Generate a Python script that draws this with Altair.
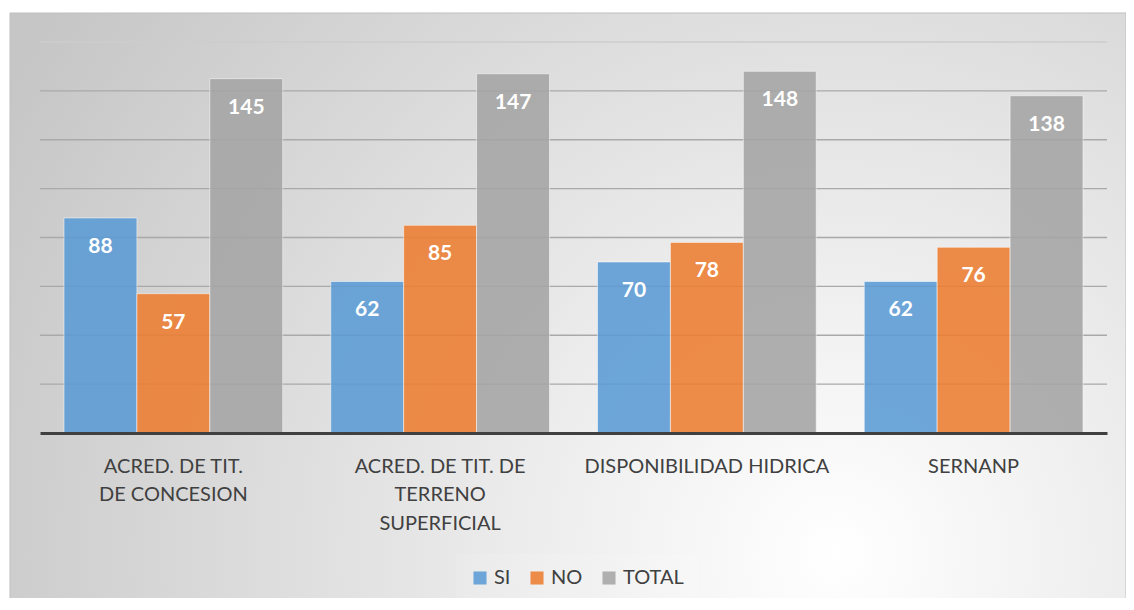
import json
import altair as alt
import pandas as pd

categories = [
    "ACRED. DE TIT. DE CONCESION",
    "ACRED. DE TIT. DE TERRENO SUPERFICIAL",
    "DISPONIBILIDAD HIDRICA",
    "SERNANP",
]
category_lines = [
    ["ACRED. DE TIT.", "DE CONCESION"],
    ["ACRED. DE TIT. DE", "TERRENO", "SUPERFICIAL"],
    ["DISPONIBILIDAD HIDRICA"],
    ["SERNANP"],
]
series = ["SI", "NO", "TOTAL"]
si_values = [88, 62, 70, 62]
no_values = [57, 85, 78, 76]
total_values = [145, 147, 148, 138]
series_colors = ["#5B9BD5", "#ED7D31", "#A5A5A5"]
grid_values = [20, 40, 60, 80, 100, 120, 140, 160]

rows = []
for i, c in enumerate(categories):
    for s, vals in zip(series, [si_values, no_values, total_values]):
        rows.append({"cat": c, "serie": s, "valor": vals[i]})
df = pd.DataFrame(rows)
grid_df = pd.DataFrame({"v": grid_values})
bg_df = pd.DataFrame({"a": [0]})

W, H = 1067, 391
FONT = "Lato"

label_expr = " : ".join(
    f"datum.value == '{c}' ? {json.dumps(l)}" for c, l in zip(categories, category_lines)
) + " : datum.label"

gradient = {
    "gradient": "radial",
    "x1": 0.74, "y1": 0.72, "r1": 0,
    "x2": 0.74, "y2": 0.72, "r2": 0.85,
    "stops": [
        {"offset": 0, "color": "#FFFFFF"},
        {"offset": 1, "color": "#C6C6C6"},
    ],
}

background = alt.Chart(bg_df).mark_rect(
    fill=gradient, stroke="#BFBFBF", strokeWidth=1
).encode(
    x=alt.value(-30), x2=alt.value(W + 19), y=alt.value(-29), y2=alt.value(H + 170)
)

y_scale = alt.Scale(domain=[0, 160], nice=False)

grid = alt.Chart(grid_df).mark_rule(strokeWidth=1.3).encode(
    y=alt.Y("v:Q", scale=y_scale, axis=None),
    color=alt.condition(alt.datum.v == 160, alt.value("#CDCDCD"), alt.value("#A9A9A9")),
)

x_enc = alt.X(
    "cat:N",
    sort=categories,
    scale=alt.Scale(paddingInner=0.18, paddingOuter=0.09),
    axis=alt.Axis(
        title=None,
        ticks=False,
        grid=False,
        domain=True,
        domainColor="#404040",
        domainWidth=3,
        labelAngle=0,
        labelFont=FONT,
        labelFontSize=20,
        labelColor="#404040",
        labelLineHeight=28.5,
        labelPadding=23,
        labelExpr=label_expr,
        labelLimit=300,
        zindex=1,
    ),
)

bars = alt.Chart(df).mark_bar(
    opacity=0.88, stroke="#FFFFFF", strokeOpacity=0.55, strokeWidth=1
).encode(
    x=x_enc,
    xOffset=alt.XOffset("serie:N", sort=series, scale=alt.Scale(paddingInner=0, paddingOuter=0)),
    y=alt.Y("valor:Q", scale=y_scale, axis=None),
    color=alt.Color(
        "serie:N",
        sort=series,
        scale=alt.Scale(domain=series, range=series_colors),
        legend=alt.Legend(
            title=None,
            orient="none",
            direction="horizontal",
            legendX=416,
            legendY=512,
            padding=14,
            fillColor="rgba(255,255,255,0.12)",
            symbolType="square",
            symbolSize=170,
            symbolStrokeWidth=0,
            symbolOpacity=0.88,
            labelFont=FONT,
            labelFontSize=20,
            labelColor="#404040",
            labelOffset=4,
            columnPadding=16,
        ),
    ),
)

labels = alt.Chart(df).mark_text(
    font=FONT, fontSize=21, fontWeight="bold", color="#FFFFFF", baseline="middle", dy=29
).encode(
    x=alt.X("cat:N", sort=categories),
    xOffset=alt.XOffset("serie:N", sort=series),
    y=alt.Y("valor:Q", scale=y_scale),
    text=alt.Text("valor:Q"),
)

chart = alt.layer(background, grid, bars, labels).properties(
    width=W,
    height=H,
    padding={"left": 32, "top": 34, "right": 19, "bottom": 165},
    autosize=alt.AutoSizeParams(type="none"),
    background="#FFFFFF",
).configure_view(stroke=None)

chart.save("out.html", embed_options={"renderer": "svg", "actions": False})
